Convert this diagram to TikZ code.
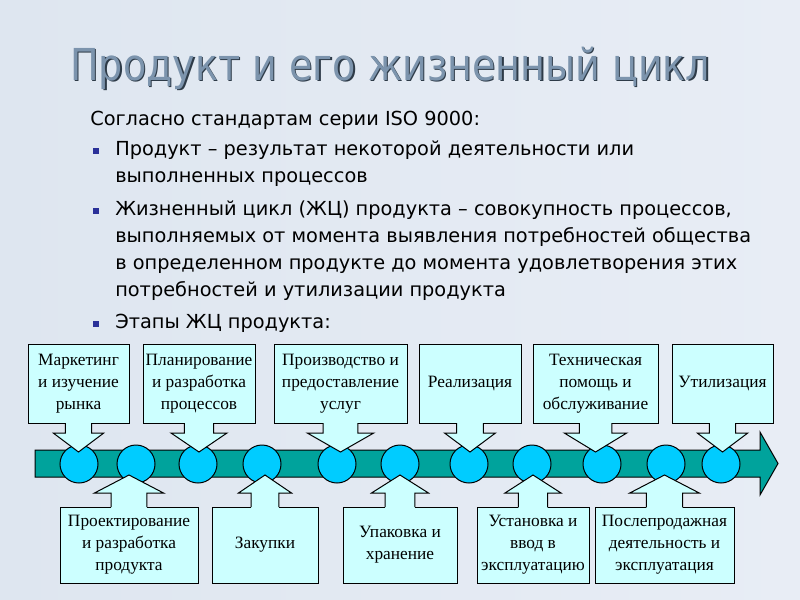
\documentclass[tikz,border=0pt]{standalone}
\usepackage{fontspec}
\setmainfont{Liberation Serif}
\newfontfamily\bodyfont{DejaVu Sans}
\newfontfamily\titlefont[FakeStretch=0.865]{DejaVu Sans}
\usetikzlibrary{calc}
\definecolor{bgA}{HTML}{DEE6F0}
\definecolor{bgB}{HTML}{E8EDF5}
\definecolor{boxfill}{HTML}{CCFFFF}
\definecolor{circfill}{HTML}{00CCFF}
\definecolor{bandcol}{HTML}{00A39C}
\definecolor{titlecol}{HTML}{7C94AD}
\definecolor{titleshadow}{HTML}{2E3B48}
\definecolor{bulletcol}{HTML}{2A3199}
\tikzset{
  stagebox/.style={draw=black, fill=boxfill, line width=0.75pt, outer sep=0pt,
    inner sep=1pt, align=center, font=\fontsize{13}{16.5}\selectfont},
  stageline/.style={draw=black, line width=0.75pt, line join=miter},
  dot/.style={circle, draw=black, fill=circfill, line width=0.75pt,
    minimum size=28.5pt, inner sep=0pt},
  bodyline/.style={anchor=base west, inner sep=0pt, font=\bodyfont\fontsize{14.5}{16}\selectfont},
  bulletsq/.style={fill=bulletcol},
}
\newcommand\stagetop[4]{%
  \pgfmathsetmacro\bxc{(#2+#3)/2}%
  \pgfmathsetmacro\bhw{(#3-#2)*0.25}%
  \pgfmathsetmacro\bsw{(#3-#2)*0.13}%
  \node[stagebox, minimum width={(#3-#2)*0.75pt}, minimum height=59.25pt] (#1) at (\bxc,383.5) {#4};
  \fill[boxfill] ($(#1.south)+(-\bsw,-0.8)$) -- ($(#1.south)+(-\bsw,10)$) -- ($(#1.south)+(-\bhw,10)$)
     -- ($(#1.south)+(0,29)$) -- ($(#1.south)+(\bhw,10)$) -- ($(#1.south)+(\bsw,10)$)
     -- ($(#1.south)+(\bsw,-0.8)$) -- cycle;
  \draw[stageline] ($(#1.south)+(-\bsw,0)$) -- ($(#1.south)+(-\bsw,10)$) -- ($(#1.south)+(-\bhw,10)$)
     -- ($(#1.south)+(0,29)$) -- ($(#1.south)+(\bhw,10)$) -- ($(#1.south)+(\bsw,10)$)
     -- ($(#1.south)+(\bsw,0)$);
}
\newcommand\stagebot[4]{%
  \pgfmathsetmacro\bxc{(#2+#3)/2}%
  \pgfmathsetmacro\bhw{(#3-#2)*0.25}%
  \pgfmathsetmacro\bsw{(#3-#2)*0.13}%
  \node[stagebox, minimum width={(#3-#2)*0.75pt}, minimum height=57pt] (#1) at (\bxc,545) {#4};
  \fill[boxfill] ($(#1.north)+(-\bsw,0.8)$) -- ($(#1.north)+(-\bsw,-14)$) -- ($(#1.north)+(-\bhw,-14)$)
     -- ($(#1.north)+(0,-32)$) -- ($(#1.north)+(\bhw,-14)$) -- ($(#1.north)+(\bsw,-14)$)
     -- ($(#1.north)+(\bsw,0.8)$) -- cycle;
  \draw[stageline] ($(#1.north)+(-\bsw,0)$) -- ($(#1.north)+(-\bsw,-14)$) -- ($(#1.north)+(-\bhw,-14)$)
     -- ($(#1.north)+(0,-32)$) -- ($(#1.north)+(\bhw,-14)$) -- ($(#1.north)+(\bsw,-14)$)
     -- ($(#1.north)+(\bsw,0)$);
}
\begin{document}
\begin{tikzpicture}[x=0.75pt, y=-0.75pt]
\useasboundingbox (0,0) rectangle (800,600);
\shade[left color=bgA, right color=bgB] (0,0) rectangle (800,600);

% title
\node[anchor=base west, inner sep=0pt, font=\titlefont\fontsize{33}{36}\selectfont, text=titleshadow]
  (titleshadow) at (71.5,81.5) {Продукт и его жизненный цикл};
\node[anchor=base west, inner sep=0pt, font=\titlefont\fontsize{33}{36}\selectfont, text=titlecol]
  (title) at (70,80) {Продукт и его жизненный цикл};

% body text
\node[bodyline] (t1) at (90,125) {Согласно стандартам серии ISO 9000:};
\node[bodyline] (t2) at (115,155) {Продукт – результат некоторой деятельности или};
\node[bodyline] (t3) at (115,182) {выполненных процессов};
\node[bodyline] (t4) at (115,215) {Жизненный цикл (ЖЦ) продукта – совокупность процессов,};
\node[bodyline] (t5) at (115,242) {выполняемых от момента выявления потребностей общества};
\node[bodyline] (t6) at (115,269) {в определенном продукте до момента удовлетворения этих};
\node[bodyline] (t7) at (115,296) {потребностей и утилизации продукта};
\node[bodyline] (t8) at (115,328) {Этапы ЖЦ продукта:};
\fill[bulletsq] (93,148) rectangle (99,154);
\fill[bulletsq] (93,208) rectangle (99,214);
\fill[bulletsq] (93,321) rectangle (99,327);

% band arrow
\draw[fill=bandcol, line width=0.75pt, line join=miter]
  (35,450) -- (760,450) -- (760,432) -- (778,463.5) -- (760,495) -- (760,477) -- (35,477) -- cycle;

% circles
\foreach \i/\x in {1/79,2/136,3/198,4/262,5/337,6/400,7/469,8/532,9/602,10/666,11/721}
  \node[dot] (c\i) at (\x,464) {};

% stage callouts
\stagetop{s1}{28}{129}{Маркетинг\\и изучение\\рынка}
\stagetop{s3}{143}{255}{Планирование\\и разработка\\процессов}
\stagetop{s5}{274}{407}{Производство и\\предоставление\\услуг}
\stagetop{s7}{419}{521}{Реализация}
\stagetop{s9}{533}{658}{Техническая\\помощь и\\обслуживание}
\stagetop{s11}{672}{773}{Утилизация}
\stagebot{s2}{60}{198}{Проектирование\\и разработка\\продукта}
\stagebot{s4}{212}{318}{Закупки}
\stagebot{s6}{343}{457}{Упаковка и\\хранение}
\stagebot{s8}{477}{589}{Установка и\\ввод в\\эксплуатацию}
\stagebot{s10}{595}{734}{Послепродажная\\деятельность и\\эксплуатация}
\end{tikzpicture}
\end{document}
